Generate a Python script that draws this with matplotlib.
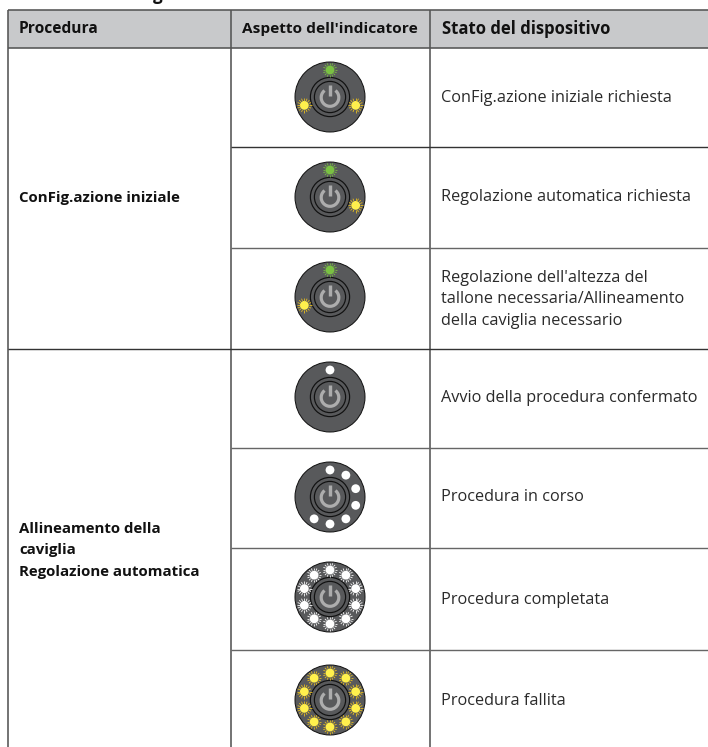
import math
import matplotlib
matplotlib.use("Agg")
import matplotlib.pyplot as plt
from matplotlib.patches import Circle, Arc, Rectangle

plt.rcParams['font.family'] = ['Open Sans', 'DejaVu Sans']

headers = ["Procedura", "Aspetto dell'indicatore", "Stato del dispositivo"]
procedures = ["ConFig.azione iniziale",
              "Allineamento della\ncaviglia\nRegolazione automatica"]
states = ["ConFig.azione iniziale richiesta",
          "Regolazione automatica richiesta",
          "Regolazione dell'altezza del\ntallone necessaria/Allineamento\ndella caviglia necessario",
          "Avvio della procedura confermato",
          "Procedura in corso",
          "Procedura completata",
          "Procedura fallita"]
# LED ring: clock position index (0 = top, 10 LEDs clockwise) -> colour code
leds = [
    {0: 'g', 3: 'y', 7: 'y'},
    {0: 'g', 3: 'y'},
    {0: 'g', 7: 'y'},
    {0: 'w'},
    {0: 'w', 1: 'w', 2: 'w', 3: 'w', 4: 'w', 5: 'w', 6: 'w'},
    {i: 'W' for i in range(10)},
    {i: 'Y' for i in range(10)},
]

W, H = 708, 747
fig = plt.figure(figsize=(W/100, H/100), dpi=100)
ax = fig.add_axes([0, 0, 1, 1])
ax.set_xlim(0, W); ax.set_ylim(H, 0); ax.axis('off')
px = 0.72

LINE = '#555555'
X0, X1, X2 = 7.5, 231, 430
HY0, HY1 = 10, 48
ROW_Y = [48, 147, 248, 349, 448, 548, 650, 747]
CX = 330
CY = [97, 197, 297, 397, 497, 597, 700]

ax.add_patch(Rectangle((X0, HY0), W-X0, HY1-HY0, fc='#c8c9cb', ec='none'))
ax.plot([X0, W], [HY0, HY0], color=LINE, lw=1.6*px, solid_capstyle='butt')
ax.plot([X0, W], [HY1, HY1], color=LINE, lw=1.6*px, solid_capstyle='butt')
for x in (X0, X1, X2):
    ax.plot([x, x], [HY0, H], color=LINE, lw=1.6*px, solid_capstyle='butt')
for i, y in enumerate(ROW_Y[1:-1]):
    x_start = X0 if i == 2 else X1
    ax.plot([x_start, W], [y, y], color='#333333' if i in (0, 2) else '#666666',
            lw=1.4*px, solid_capstyle='butt')

TXT = '#111111'
ax.text(153, -0.5, "g", fontsize=17*px, fontweight='bold', ha='left', va='baseline', color=TXT)
ax.text(19, 29, headers[0], fontsize=15.5*px, fontweight='bold', va='center', color=TXT)
ax.text(242, 29, headers[1], fontsize=15.4*px, fontweight='bold', va='center', color=TXT)
ax.text(442, 29, headers[2], fontsize=16.6*px, fontweight='bold', va='center', color=TXT)

BOLD = 15*px
ax.text(19, 198, procedures[0], fontsize=BOLD, fontweight='bold', va='center', color=TXT)
for y, s in zip((529, 550, 572), procedures[1].split('\n')):
    ax.text(19, y, s, fontsize=BOLD, fontweight='bold', va='center', color=TXT)

STATE_Y = [[98], [197], [278, 299, 321], [398], [497], [600], [701]]
for s, ys in zip(states, STATE_Y):
    for y, t in zip(ys, s.split('\n')):
        ax.text(441, y, t, fontsize=16.2*px, va='center', color='#2a2a2a')

COL = {'g': '#7ac143', 'y': '#fff04d', 'w': '#ffffff'}
RAY = {'g': '#7ac143', 'y': '#eec31c', 'w': '#ffffff'}

def led(cx, cy, code):
    rayed = code != 'w'
    k = code.lower()
    ax.add_patch(Circle((cx, cy), 4.4, fc=COL[k], ec='none', zorder=5))
    if rayed:
        for j in range(16):
            a = 2*math.pi*j/16
            ax.plot([cx+4.8*math.cos(a), cx+7.2*math.cos(a)],
                    [cy+4.8*math.sin(a), cy+7.2*math.sin(a)],
                    color=RAY[k], lw=0.8*px, zorder=5, solid_capstyle='butt')

for cy, state in zip(CY, leds):
    ax.add_patch(Circle((CX, cy), 35, fc='#58595b', ec='#111111', lw=1*px, zorder=2))
    ax.add_patch(Circle((CX, cy), 19.6, fc='#58595b', ec='#111111', lw=1.2*px, zorder=3))
    ax.add_patch(Circle((CX, cy), 15.6, fc='#58595b', ec='#111111', lw=1.2*px, zorder=3))
    ax.add_patch(Arc((CX, cy+0.5), 17.6, 17.6, theta1=-52, theta2=232, color='#adadad', lw=3.2*px, zorder=4))
    ax.plot([CX, CX], [cy-12, cy-1], color='#adadad', lw=3.4*px, zorder=4, solid_capstyle='butt')
    for i, code in state.items():
        a = math.radians(36*i)
        led(CX + 27*math.sin(a), cy - 27*math.cos(a), code)

fig.savefig('out.png', dpi=100)
